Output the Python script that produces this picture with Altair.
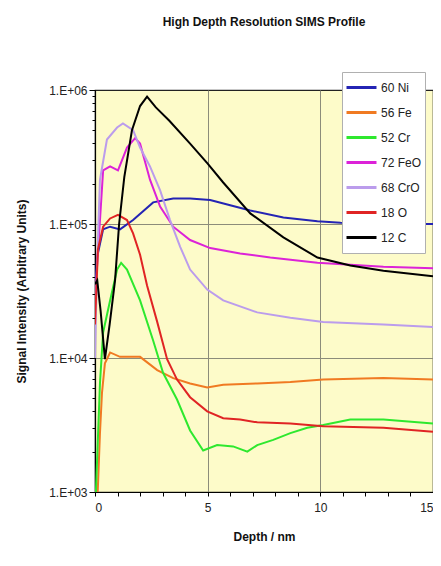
import altair as alt
import pandas as pd

series_names = ["60 Ni", "56 Fe", "52 Cr", "72 FeO", "68 CrO", "18 O", "12 C"]
series_colors = ["#2424b4", "#f07a22", "#2ee82e", "#dc22d8", "#bb9cec", "#e02424", "#000000"]

ni_depth = [0, 0.09, 0.36, 0.67, 1.11, 1.69, 2.58, 3.47, 4.22, 5.11, 6.0, 6.89, 8.36, 9.87, 10.9, 12.5, 15]
ni_val = [26900, 56200, 91200, 95500, 91200, 107000, 145000, 155000, 155000, 151000, 138000, 126000, 112000, 105000, 102000, 100000, 100000]

fe_depth = [0.12, 0.22, 0.31, 0.44, 0.67, 1.11, 2.0, 2.76, 3.47, 4.22, 4.98, 5.69, 7.2, 8.67, 10.13, 12.8, 15]
fe_val = [1000, 2750, 5500, 9120, 11000, 10200, 10200, 8130, 7080, 6460, 6030, 6310, 6460, 6610, 6920, 7080, 6920]

cr_depth = [0.03, 0.22, 0.36, 0.67, 0.98, 1.16, 1.42, 2.0, 2.58, 3.02, 3.64, 4.22, 4.8, 5.42, 6.13, 6.76, 7.2, 7.91, 8.67, 9.42, 10.13, 11.33, 12.8, 15]
cr_val = [900, 6460, 15500, 26900, 45700, 51300, 45700, 26900, 13500, 7760, 4900, 2880, 2040, 2240, 2190, 2000, 2240, 2450, 2750, 3020, 3160, 3470, 3470, 3240]

feo_depth = [0, 0.09, 0.36, 0.67, 1.02, 1.42, 1.78, 2.0, 2.44, 2.89, 3.47, 4.22, 5.11, 6.44, 7.78, 9.87, 12.8, 15]
feo_val = [20000, 47900, 251000, 269000, 251000, 372000, 437000, 398000, 214000, 135000, 95500, 75900, 66100, 60300, 56200, 51300, 47900, 46800]

cro_depth = [0, 0.09, 0.22, 0.53, 0.98, 1.24, 1.69, 2.0, 2.44, 2.89, 3.33, 3.78, 4.22, 4.98, 5.69, 7.2, 8.67, 10.13, 12.8, 15]
cro_val = [10000, 47900, 214000, 427000, 525000, 562000, 501000, 372000, 269000, 178000, 107000, 67600, 45700, 32400, 26900, 21900, 20000, 18600, 17800, 17000]

o_depth = [0, 0.13, 0.36, 0.67, 1.02, 1.42, 1.69, 2.0, 2.31, 2.76, 3.2, 3.64, 4.22, 4.98, 5.69, 6.44, 7.2, 8.67, 10.13, 12.8, 15]
o_val = [17800, 64600, 95500, 110000, 117000, 107000, 85100, 58900, 34700, 18600, 9800, 6900, 5100, 4000, 3550, 3470, 3310, 3240, 3090, 3020, 2820]

c_depth = [0, 0.1, 0.25, 0.44, 0.65, 0.89, 1.07, 1.3, 1.64, 2.0, 2.31, 2.7, 3.3, 4.22, 5.0, 5.69, 6.89, 8.36, 9.87, 11.33, 12.8, 15]
c_val = [35500, 38000, 22400, 9800, 17800, 38000, 100000, 224000, 501000, 759000, 891000, 741000, 589000, 398000, 282000, 204000, 120000, 79400, 56200, 49000, 44700, 40700]

x_tick_values = list(range(0, 16))
y_tick_values = [m * 10 ** e for e in (3, 4, 5) for m in range(1, 10)] + [1000000]

all_series = [
    (ni_depth, ni_val), (fe_depth, fe_val), (cr_depth, cr_val), (feo_depth, feo_val),
    (cro_depth, cro_val), (o_depth, o_val), (c_depth, c_val),
]
rows = []
for name, (ds, vs) in zip(series_names, all_series):
    for i, (d, v) in enumerate(zip(ds, vs)):
        rows.append({"series": name, "depth": d, "value": v, "order": i})
df = pd.DataFrame(rows)

font = "Liberation Sans"
major_test = "datum.value == 1000 || datum.value == 10000 || datum.value == 100000 || datum.value == 1000000"

lines = alt.Chart(df).mark_line(clip=True, strokeWidth=2).encode(
    x=alt.X("depth:Q",
            scale=alt.Scale(domain=[0, 15], nice=False, zero=False),
            axis=alt.Axis(values=x_tick_values, title="Depth / nm",
                          labelExpr="datum.value % 5 == 0 ? datum.label : ''",
                          grid=True,
                          gridColor={"condition": {"test": "datum.value == 5 || datum.value == 10", "value": "#8c8c7a"}, "value": "rgba(0,0,0,0)"},
                          gridWidth=1,
                          tickSize=4, tickColor="#000", domainColor="#000", domainWidth=1.2,
                          labelFont=font, labelFontSize=12, labelColor="#222", labelPadding=6,
                          titleFont=font, titleFontSize=12, titleFontWeight="bold", titleColor="#111",
                          titlePadding=18)),
    y=alt.Y("value:Q",
            scale=alt.Scale(type="log", domain=[1000, 1000000], nice=False),
            axis=alt.Axis(values=y_tick_values, title="Signal Intensity (Arbitrary Units)",
                          labelExpr="(" + major_test + ") ? '1.E+0' + round(log(datum.value)/log(10)) : ''",
                          grid=True,
                          gridColor={"condition": {"test": "datum.value == 10000 || datum.value == 100000", "value": "#8c8c7a"}, "value": "rgba(0,0,0,0)"},
                          gridWidth=1,
                          tickSize={"condition": {"test": major_test, "value": 6}, "value": 3},
                          tickColor="#000", domainColor="#000", domainWidth=1.2,
                          labelFont=font, labelFontSize=12, labelColor="#222", labelPadding=2,
                          titleFont=font, titleFontSize=12, titleFontWeight="bold", titleColor="#111",
                          titlePadding=20)),
    color=alt.Color("series:N",
                    scale=alt.Scale(domain=series_names, range=series_colors),
                    legend=alt.Legend(orient="none", legendX=247, legendY=-18, title=None,
                                      symbolType="stroke", symbolSize=900, symbolStrokeWidth=3,
                                      labelFont=font, labelFontSize=12, labelColor="#222",
                                      fillColor="white", strokeColor="#b0b0b0",
                                      padding=3, rowPadding=0, clipHeight=25, labelOffset=3)),
    order="order:Q",
)

chart = lines.properties(
    width=338, height=402,
    title=alt.TitleParams("High Depth Resolution SIMS Profile", font=font, fontSize=12,
                          fontWeight="bold", color="#111", anchor="middle", offset=43),
    autosize=alt.AutoSizeParams(type="none"),
    padding={"left": 87, "top": 82, "right": 0, "bottom": 60},
    background="white",
).configure_view(fill="#fdfbc9", stroke="#222", strokeWidth=1.2)

chart.save("out.html", embed_options={"renderer": "svg", "actions": False})
